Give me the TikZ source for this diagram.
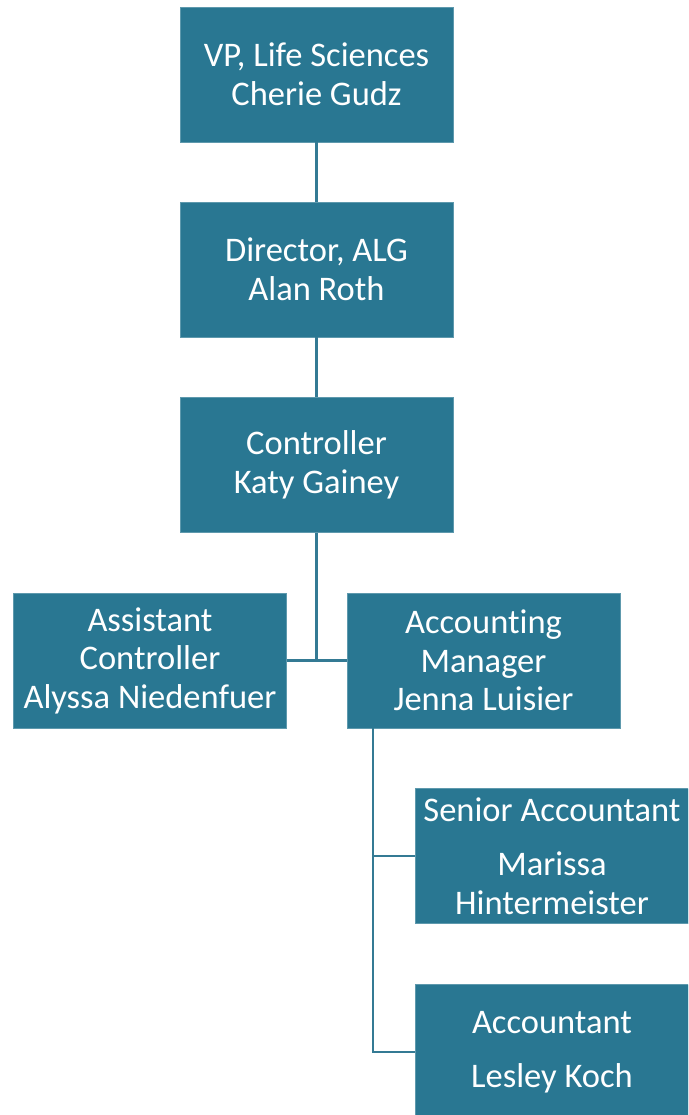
\documentclass[tikz,border=0pt]{standalone}
\usepackage{fontspec}
\setmainfont{Carlito}[Ligatures=NoCommon]
\definecolor{boxfill}{RGB}{41,119,146}
\definecolor{linecol}{RGB}{52,122,148}
\begin{document}
\begin{tikzpicture}[x=1pt,y=-1pt,
  orgbox/.style={rectangle, fill=boxfill, draw=boxfill!75!white, line width=0.6pt,
    minimum width=273pt, minimum height=135pt, inner sep=0pt, text=white,
    align=center, font=\fontsize{34.5}{38.5}\selectfont},
  link/.style={draw=linecol, line width=2.2pt}]
\useasboundingbox (0,0) rectangle (688,1115);
\clip (0,0) rectangle (688,1115);
\node[orgbox] (vp)  at (316.5,74.5)  {VP, Life Sciences\\Cherie Gudz};
\node[orgbox] (dir) at (316.5,269.5) {Director, ALG\\Alan Roth};
\node[orgbox] (ctl) at (316.5,465)   {Controller\\Katy Gainey};
\node[orgbox] (ac)  at (150,660.5)   {Assistant\\Controller\\Alyssa Niedenfuer};
\node[orgbox] (am)  at (483.5,660.5) {Accounting\\Manager\\Jenna Luisier};
\node[orgbox] (sa)  at (552,856)     {Senior Accountant\\[15.5pt]Marissa\\Hintermeister};
\node[orgbox] (acc) at (552,1052)    {Accountant\\[15pt]Lesley Koch};
\coordinate (j1) at (ctl.south |- ac.east);
\coordinate (amdrop) at (373,728);
\draw[link] (vp.south) -- (dir.north);
\draw[link] (dir.south) -- (ctl.north);
\draw[link] (ctl.south) -- (j1);
\draw[link] (ac.east) -- (am.west);
\draw[link] (amdrop) |- (sa.west);
\draw[link] (amdrop) |- (acc.west);
\end{tikzpicture}
\end{document}
